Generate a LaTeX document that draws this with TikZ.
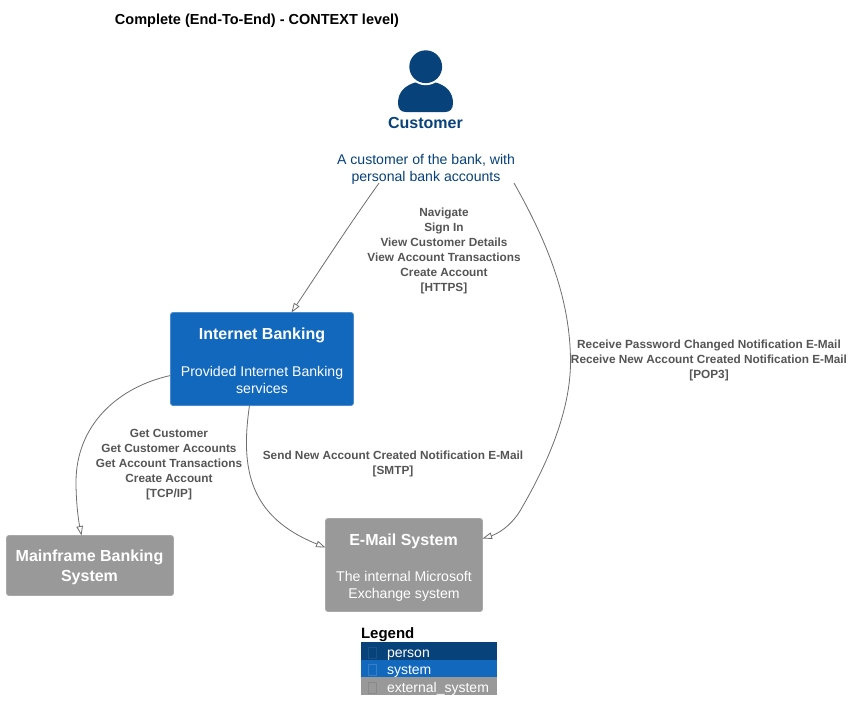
\documentclass[tikz,border=0pt]{standalone}
\usepackage{fontspec}
\setmainfont{Liberation Sans}
\usetikzlibrary{arrows.meta}
\definecolor{personc}{HTML}{08427B}
\definecolor{systemc}{HTML}{1168BD}
\definecolor{extc}{HTML}{999999}
\definecolor{edgec}{HTML}{6E6E6E}
\definecolor{labelc}{HTML}{555555}
\tikzset{
  x=1pt,y=-1pt,
  txt/.style={inner sep=0pt,outer sep=0pt,align=center},
  sysbox/.style={rectangle,rounded corners=2.5pt,inner sep=0pt,outer sep=0pt,line width=.8pt},
  intbox/.style={sysbox,fill=systemc,draw=systemc!75!white},
  extbox/.style={sysbox,fill=extc,draw=extc!85!white},
  boxtitle/.style={txt,text=white,font=\fontsize{16}{20}\selectfont\bfseries},
  boxdesc/.style={txt,text=white,font=\fontsize{14.1}{17}\selectfont},
  edgelabel/.style={txt,text=labelc,font=\fontsize{11.8}{15}\selectfont\bfseries},
  rel/.style={draw=edgec,line width=.8pt,-{Triangle[open,length=9.5pt,width=6.5pt]}},
  legrow/.style={rectangle,inner sep=0pt,outer sep=0pt,minimum width=136pt,minimum height=17.7pt},
  legmark/.style={rectangle,inner sep=0pt,outer sep=0pt,minimum width=8pt,minimum height=11pt,draw,line width=.5pt},
  legtext/.style={inner sep=0pt,outer sep=0pt,anchor=base west,text=white,font=\fontsize{14}{17}\selectfont},
}
\begin{document}
\begin{tikzpicture}
\useasboundingbox (0,0) rectangle (853,721);
\fill[white] (0,0) rectangle (853,721);

\node[txt,font=\fontsize{14.5}{17}\selectfont\bfseries,anchor=center] (title) at (257,20.5) {Complete (End-To-End) - CONTEXT level)};

% person
\fill[personc] (398,103) .. controls (398,92) and (405,85) .. (417,82) -- (434,82) .. controls (446,85) and (453,92) .. (453,103)
  .. controls (453,109) and (450,112) .. (445,112) -- (406,112) .. controls (401,112) and (398,109) .. (398,103) -- cycle;
\fill[white] (425.7,66.7) circle (18.5);
\fill[personc] (425.7,66.7) circle (16.4);
\node[txt,text=personc,font=\fontsize{16}{20}\selectfont\bfseries] (custname) at (425.5,123) {Customer};
\node[txt,text=personc,font=\fontsize{14.1}{17}\selectfont] (custdesc) at (426,169) {A customer of the bank, with\\personal bank accounts};

% systems
\node[intbox,minimum width=183pt,minimum height=93pt] (ib) at (262,359) {};
\node[boxtitle] (ibt) at (262,335) {Internet Banking};
\node[boxdesc] (ibd) at (262,380) {Provided Internet Banking\\services};

\node[extbox,minimum width=167pt,minimum height=60pt] (mf) at (90,565.5) {};
\node[boxtitle] (mft) at (89.5,567.5) {Mainframe Banking\\System};

\node[extbox,minimum width=157pt,minimum height=93pt] (em) at (404,565) {};
\node[boxtitle] (emt) at (403.5,541) {E-Mail System};
\node[boxdesc] (emd) at (404,586) {The internal Microsoft\\Exchange system};

% connectors
\draw[rel] ([xshift=-47pt,yshift=1pt]custdesc.south) .. controls +(-30,42) and +(30,-45) .. ([xshift=121pt]ib.north west);
\draw[rel] ([xshift=88pt,yshift=1pt]custdesc.south) .. controls +(34,60) and +(0,-62) .. (570.5,362)
  .. controls (570.5,420) and (538,480) .. (520,511) .. controls (510,527) and (497,534) .. ([yshift=-20pt]em.north east);
\draw[rel] ([yshift=-63pt]ib.north west) .. controls (118,387) and (76,425) .. (76,482) .. controls (76,500) and (78,518) .. ([xshift=75pt]mf.north west);
\draw[rel] ([xshift=79pt]ib.south west) .. controls (240,470) and (250,517) .. ([yshift=-29pt]em.north west);

% edge labels
\node[edgelabel] (l1) at (444,250.5) {Navigate\\Sign In\\View Customer Details\\View Account Transactions\\Create Account\\{[HTTPS]}};
\node[edgelabel] (l2) at (709,360.5) {Receive Password Changed Notification E-Mail\\Receive New Account Created Notification E-Mail\\{[POP3]}};
\node[edgelabel] (l3) at (169,464.5) {Get Customer\\Get Customer Accounts\\Get Account Transactions\\Create Account\\{[TCP/IP]}};
\node[edgelabel] (l4) at (393,464) {Send New Account Created Notification E-Mail\\{[SMTP]}};

% legend
\node[txt,anchor=west,font=\fontsize{15}{17}\selectfont\bfseries] (legt) at (361,635) {Legend};
\node[legrow,fill=personc,anchor=north west] (lp) at (361,642) {};
\node[legrow,fill=systemc,anchor=north west] (ls) at (361,659.7) {};
\node[legrow,fill=extc,anchor=north west] (le) at (361,677.4) {};
\node[legmark,draw=personc!92!white] (lpm) at (372,652.5) {};
\node[legmark,draw=systemc!85!white] (lsm) at (372,669.5) {};
\node[legmark,draw=extc!90!black] (lem) at (372,687.5) {};
\node[legtext] (lpt) at (387,657) {person};
\node[legtext] (lst) at (387,674.5) {system};
\node[legtext] (let) at (387,692) {external\_system};
\end{tikzpicture}
\end{document}
